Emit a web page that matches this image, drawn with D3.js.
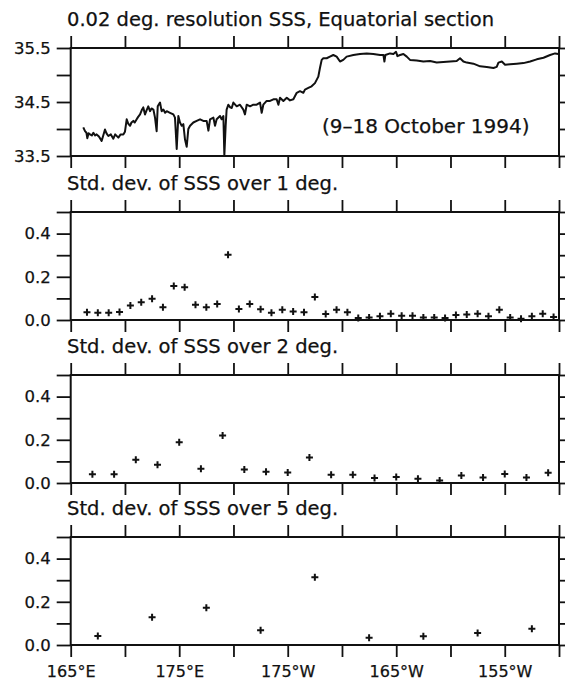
<!DOCTYPE html>
<html>
<head>
<meta charset="utf-8">
<script src="https://cdn.jsdelivr.net/npm/d3@7/dist/d3.min.js"></script>
<style>
  html, body { margin: 0; padding: 0; background: #fff; }
  svg { display: block; }
  text { font-family: "DejaVu Sans", sans-serif; fill: #111; stroke: #111; stroke-width: 0.25px; }
</style>
</head>
<body>
<script>
// ---------- DATA ----------
const titles = [
  "0.02 deg. resolution SSS, Equatorial section",
  "Std. dev. of SSS over 1 deg.",
  "Std. dev. of SSS over 2 deg.",
  "Std. dev. of SSS over 5 deg."
];
const dateNote = "(9\u201318 October 1994)";

// longitude in degrees east (0-360)
const xTickValues = [165, 170, 175, 180, 185, 190, 195, 200, 205, 210];
const xTickLabels = {165: "165\u00b0E", 175: "175\u00b0E", 185: "175\u00b0W", 195: "165\u00b0W", 205: "155\u00b0W"};

const sssTicks = [33.5, 34.0, 34.5, 35.0, 35.5];
const sssLabels = [33.5, 34.5, 35.5];
const sdTicks = [0, 0.1, 0.2, 0.3, 0.4, 0.5];
const sdLabels = [0, 0.2, 0.4];

// 0.02 deg SSS section (lon, SSS)
const sssLon = [
  166.16,166.32,166.45,166.53,166.65,166.78,166.95,167.09,167.25,167.39,167.6,167.85,168.0,168.16,168.3,168.47,
  168.7,168.93,169.1,169.39,169.6,169.85,170.0,170.16,170.3,170.47,170.6,170.77,170.9,171.08,171.2,171.39,
  171.55,171.69,171.85,172.0,172.15,172.31,172.45,172.62,172.77,172.92,173.02,173.23,173.38,173.54,173.7,173.85,
  174.15,174.46,174.61,174.77,174.92,175.07,175.23,175.38,175.53,175.69,175.84,176.0,176.3,176.61,176.92,177.22,
  177.53,177.69,177.84,178.15,178.3,178.45,178.76,178.91,179.07,179.16,179.28,179.37,179.53,179.7,179.84,179.99,
  180.3,180.6,180.91,181.06,181.22,181.53,181.83,182.14,182.45,182.6,182.75,183.06,183.37,183.68,183.98,184.14,
  184.29,184.6,184.91,185.21,185.52,185.83,186.13,186.44,186.59,186.9,187.2,187.51,187.82,187.97,188.13,188.28,
  188.59,188.89,189.2,189.51,189.82,190.12,190.43,191.05,191.66,192.28,192.89,193.51,193.82,193.91,194.0,194.43,
  194.74,194.98,195.11,195.35,195.66,195.97,196.27,196.89,197.5,198.12,198.73,199.34,199.96,200.57,200.88,201.19,
  201.5,202.11,202.73,203.34,203.96,204.26,204.42,204.73,205.03,205.49,206.11,206.72,207.34,207.95,208.57,209.18,
  209.64,209.94
];
const sssVal = [
  34.03,33.96,33.93,33.83,33.92,33.90,33.88,33.93,33.88,33.90,33.86,33.78,33.88,33.99,33.92,33.87,
  33.90,33.82,33.90,33.84,33.90,33.90,33.95,34.18,34.10,34.06,34.12,34.15,34.12,34.18,34.22,34.27,
  34.35,34.40,34.27,34.35,34.42,34.33,34.38,34.36,34.21,33.96,34.42,34.49,34.33,34.36,34.30,34.33,
  34.30,34.27,34.21,33.63,34.24,34.12,34.06,34.09,33.81,33.67,34.00,34.06,34.12,34.15,34.18,34.15,
  34.15,33.97,34.18,34.21,34.06,34.18,34.24,34.18,34.24,33.51,34.06,34.36,34.45,34.40,34.39,34.49,
  34.42,34.45,34.36,34.27,34.45,34.42,34.45,34.45,34.49,34.30,34.45,34.52,34.52,34.55,34.55,34.45,
  34.58,34.52,34.58,34.53,34.55,34.67,34.70,34.67,34.73,34.76,34.79,34.85,34.97,35.13,35.28,35.31,
  35.31,35.34,35.37,35.34,35.25,35.28,35.34,35.37,35.39,35.40,35.39,35.37,35.37,35.25,35.37,35.40,
  35.39,35.43,35.35,35.37,35.39,35.34,35.28,35.27,35.25,35.26,35.23,35.24,35.25,35.26,35.31,35.25,
  35.23,35.21,35.16,35.15,35.13,35.15,35.23,35.25,35.19,35.20,35.21,35.22,35.25,35.29,35.32,35.37,
  35.40,35.39
];

// Std. dev. over 1 deg
const sd1Lon = [166.5,167.5,168.5,169.5,170.5,171.5,172.5,173.5,174.5,175.5,176.5,177.5,178.5,179.5,180.5,181.5,
  182.5,183.5,184.5,185.5,186.5,187.5,188.5,189.5,190.5,191.5,192.5,193.5,194.5,195.5,196.5,197.5,
  198.5,199.5,200.5,201.5,202.5,203.5,204.5,205.5,206.5,207.5,208.5,209.5];
const sd1Val = [0.036,0.033,0.033,0.037,0.067,0.082,0.098,0.059,0.157,0.152,0.071,0.059,0.074,0.302,0.051,0.074,
  0.050,0.034,0.048,0.039,0.036,0.107,0.028,0.047,0.036,0.009,0.011,0.017,0.029,0.020,0.020,0.012,
  0.011,0.009,0.023,0.025,0.029,0.017,0.048,0.011,0.006,0.017,0.029,0.014];

// Std. dev. over 2 deg
const sd2Lon = [167,169,171,173,175,177,179,181,183,185,187,189,191,193,195,197,199,201,203,205,207,209];
const sd2Val = [0.040,0.040,0.108,0.085,0.189,0.066,0.220,0.063,0.052,0.049,0.118,0.038,0.038,0.023,0.028,0.020,
  0.011,0.035,0.026,0.042,0.026,0.048];

// Std. dev. over 5 deg
const sd5Lon = [167.5,172.5,177.5,182.5,187.5,192.5,197.5,202.5,207.5];
const sd5Val = [0.042,0.129,0.172,0.068,0.314,0.034,0.040,0.055,0.075];

// ---------- LAYOUT ----------
const W = 565, H = 682;
const left = 70.7, right = 559;
const panelTops = [48, 212, 375, 537];
const panelH = 108;

const svg = d3.select("body").append("svg").attr("width", W).attr("height", H);

const x = d3.scaleLinear().domain([165, 210]).range([left, right]);

function drawPanel(i, yDomain, yTicks, yLabels, fmt) {
  const top = panelTops[i], bottom = top + panelH;
  const y = d3.scaleLinear().domain(yDomain).range([bottom, top]);
  const g = svg.append("g");

  // title
  g.append("text").attr("x", 67).attr("y", top - 22)
    .attr("font-size", 19.5).text(titles[i]);

  // ticks via d3 axes
  const axB = d3.axisBottom(x).tickValues(xTickValues).tickSize(12).tickSizeOuter(0).tickPadding(9)
    .tickFormat(d => (i === 3 && xTickLabels[d]) ? xTickLabels[d] : "");
  const axT = d3.axisTop(x).tickValues(xTickValues).tickSize(12).tickSizeOuter(0).tickFormat("");
  const axL = d3.axisLeft(y).tickValues(yTicks).tickSize(14).tickSizeOuter(0).tickPadding(6)
    .tickFormat(d => yLabels.some(v => Math.abs(v - d) < 1e-9) ? fmt(d) : "");
  const axR = d3.axisRight(y).tickValues(yTicks).tickSize(8).tickSizeOuter(0).tickFormat("");

  [[axB, `translate(0,${bottom})`, 16], [axT, `translate(0,${top})`, 16],
   [axL, `translate(${left},0)`, 16.5], [axR, `translate(${right},0)`, 16]].forEach(([ax, tr, fs]) => {
    const a = g.append("g").attr("transform", tr).call(ax);
    a.select(".domain").remove();
    a.selectAll("line").attr("stroke", "#111").attr("stroke-width", 1.8);
    a.selectAll("text").attr("font-family", "DejaVu Sans, sans-serif")
      .attr("font-size", fs).attr("fill", "#111");
  });
  g.selectAll(".tick text").filter(function() { return this.textContent === ""; }).remove();

  // frame
  g.append("rect").attr("x", left).attr("y", top)
    .attr("width", right - left).attr("height", panelH)
    .attr("fill", "none").attr("stroke", "#111").attr("stroke-width", 2);
  return {g, y};
}

// panel 1 : SSS line
{
  const {g, y} = drawPanel(0, [33.5, 35.5], sssTicks, sssLabels, d3.format(".1f"));
  const pts = sssLon.map((lo, k) => [lo, sssVal[k]]);
  g.append("path").datum(pts)
    .attr("fill", "none").attr("stroke", "#111").attr("stroke-width", 2)
    .attr("stroke-linejoin", "round")
    .attr("d", d3.line().x(d => x(d[0])).y(d => y(d[1])));
  g.append("text").attr("x", 322).attr("y", 133).attr("font-size", 20).text(dateNote);
}

function scatterPanel(i, lons, vals) {
  const {g, y} = drawPanel(i, [0, 0.5], sdTicks, sdLabels, d3.format(".1f"));
  g.selectAll("path.mark").data(lons.map((lo, k) => [lo, vals[k]])).join("path")
    .attr("class", "mark")
    .attr("transform", d => `translate(${x(d[0])},${y(d[1])})`)
    .attr("d", "M-3.5,0H3.5M0,-3.5V3.5")
    .attr("stroke", "#111").attr("stroke-width", 2).attr("fill", "none");
}
scatterPanel(1, sd1Lon, sd1Val);
scatterPanel(2, sd2Lon, sd2Val);
scatterPanel(3, sd5Lon, sd5Val);
</script>
</body>
</html>
